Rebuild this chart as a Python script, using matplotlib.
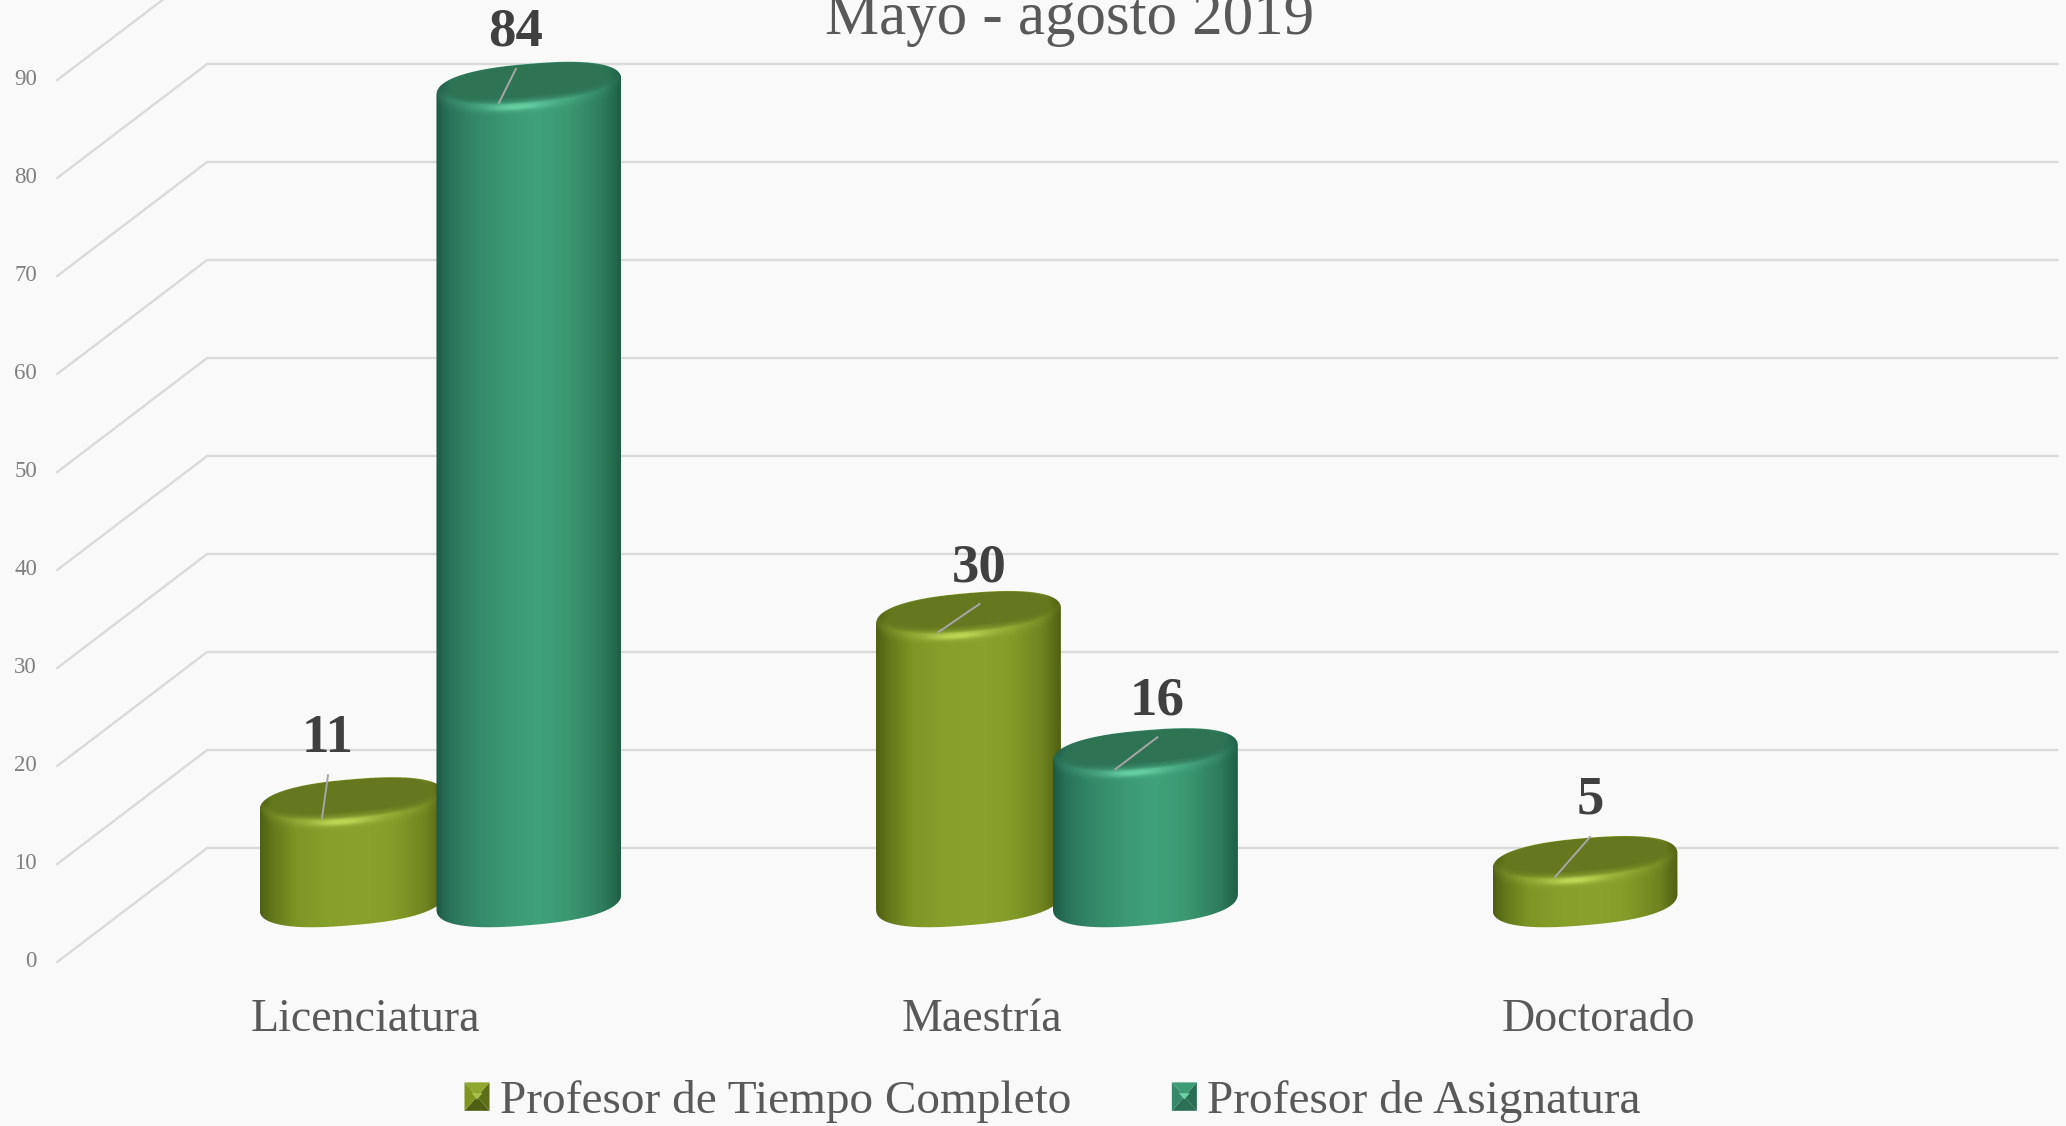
import numpy as np
import matplotlib
matplotlib.use("Agg")
import matplotlib.pyplot as plt
from matplotlib.colors import LinearSegmentedColormap, to_rgb
from matplotlib.legend_handler import HandlerPatch
from matplotlib.patches import Patch, PathPatch, Polygon
from matplotlib.path import Path

plt.rcParams["font.family"] = ["Liberation Serif", "DejaVu Serif"]

# Datos
titulo = "Mayo - agosto 2019"
categorias = ["Licenciatura", "Maestría", "Doctorado"]
tiempo_completo = [11, 30, 5]
asignatura = [84, 16, None]
niveles = [0, 10, 20, 30, 40, 50, 60, 70, 80, 90]
series_nombres = ["Profesor de Tiempo Completo", "Profesor de Asignatura"]

# Estilo de cada serie
verde_olivo = {
    "stops": [(0, "#4f5f14"), (0.07, "#65791b"), (0.2, "#7f9626"), (0.38, "#88a02b"), (0.55, "#8aa22d"),
              (0.72, "#859c29"), (0.9, "#6f8420"), (1, "#505f12")],
    "cara": "#657820", "brillo": "#bdd655",
    "bisel": ["#8fa62f", "#5c6f17", "#4f6013", "#7f951f"], "punta": "#a9c24b",
}
verde_mar = {
    "stops": [(0, "#1e5a44"), (0.07, "#2a725a"), (0.2, "#338768"), (0.4, "#3c9a74"), (0.55, "#40a27a"),
              (0.72, "#3b9871"), (0.9, "#2f7d5d"), (1, "#1f5f46")],
    "cara": "#2f7355", "brillo": "#66cfa3",
    "bisel": ["#3d9c76", "#2a6f54", "#2b6f56", "#35896a"], "punta": "#6bd0a6",
}

# Escala: x en categorias, y en valores del eje
PX_X0, PX_POR_CAT = 352, 616.5
PX_Y0, PX_POR_VALOR = 911, 9.8
BASE = 1.0
SEP = 0.287
SEMI_X = 0.15
SEMI_Y = 2.45
SESGO = 0.8
FORMA = 0.82  # elipse un poco mas llena en las esquinas
GRID_FONDO, GRID_FRENTE = 6.43, -5.2
X_FRENTE, X_FONDO, X_FIN = -0.478, -0.235, 2.766

# desplazamiento en pixeles de cada etiqueta respecto al centro de la tapa
etq_tiempo = [(-24, 64), (11, 49), (5, 61)]
etq_asignatura = [(-13, 55), (12, 53), None]

fig = plt.figure(figsize=(20.66, 11.26), dpi=100, facecolor="#f9f9f9")
ax = fig.add_axes([0, 0, 1, 1])
ax.axis("off")


def elipse(xc, yc, a, b, s, t):
    cx = np.sign(np.cos(t)) * np.abs(np.cos(t)) ** FORMA
    sy = np.sign(np.sin(t)) * np.abs(np.sin(t)) ** FORMA
    return xc + a * cx, yc - b * sy + s * cx


def cilindro(xc, valor, estilo, z):
    cmap = LinearSegmentedColormap.from_list("c", estilo["stops"])
    t = np.linspace(0, np.pi, 120)
    xb, yb = elipse(xc, BASE, SEMI_X, SEMI_Y, SESGO, t[::-1])
    xt, yt = elipse(xc, valor, SEMI_X, SEMI_Y, SESGO, -t)
    pts = np.vstack([np.c_[xb, yb], np.c_[xt, yt]])
    contorno = PathPatch(Path(np.vstack([pts, pts[0]])), transform=ax.transData, fc="none", lw=0)
    ax.add_patch(contorno)

    im = ax.imshow(np.linspace(0, 1, 256).reshape(1, -1), cmap=cmap, aspect="auto",
                   extent=[xc - SEMI_X, xc + SEMI_X, BASE - 4, valor + 4], zorder=z)
    im.set_clip_path(contorno)

    # brillo del bisel delantero
    gx = np.linspace(xc - SEMI_X, xc + SEMI_X, 200)
    gy = np.linspace(valor - 6, valor + 4, 160)
    X, Y = np.meshgrid(gx, gy)
    u = np.clip((X - xc) / SEMI_X, -1, 1)
    arco = valor + SESGO * u - (SEMI_Y - 0.1) * (1 - np.abs(u) ** (2 / FORMA)) ** (FORMA / 2)
    fino = 0.8 * np.exp(-((u + 0.12) / 0.3) ** 2) * np.exp(-((Y - arco - 0.5) / 0.32) ** 2)
    ancho = 0.4 * np.exp(-((u + 0.1) / 0.8) ** 2) * np.exp(-((Y - arco - 0.9) / 0.7) ** 2)
    rgba = np.zeros(X.shape + (4,))
    rgba[..., :3] = to_rgb(estilo["brillo"])
    rgba[..., 3] = np.clip(fino + ancho, 0, 1)
    luz = ax.imshow(rgba, origin="lower", aspect="auto", zorder=z + 0.1,
                    extent=[gx[0], gx[-1], gy[0], gy[-1]])
    luz.set_clip_path(contorno)

    # cara superior con borde suave
    tt = np.linspace(0, 2 * np.pi, 200)
    for f in np.linspace(0, 1, 8):
        a = SEMI_X * (0.9 - 0.06 * f)
        b = SEMI_Y * (0.79 - 0.13 * f)
        s = SESGO * (0.88 - 0.05 * f)
        px, py = elipse(xc, valor + 0.45 + 0.3 * f, a, b, s, tt)
        cara = Polygon(np.c_[px, py], fc=estilo["cara"], ec="none",
                       alpha=1 if f == 1 else 0.22, zorder=z + 0.2 + f * 0.1)
        ax.add_patch(cara)
        cara.set_clip_path(contorno)


def etiqueta(xc, valor, off, z):
    dx, dy = off
    punta = ax.transData.transform((xc, valor))
    ini = ax.transData.inverted().transform(punta + np.array([dx, dy - 36]))
    fin = ax.transData.inverted().transform(punta + np.array([-30, -15]))
    ax.plot([ini[0], fin[0]], [ini[1], fin[1]], color="#a6a6a6", lw=1.4, zorder=z)
    ax.annotate(str(valor), xy=(xc, valor), xytext=(dx, dy), textcoords="offset pixels",
                ha="center", va="center", fontsize=39.5, fontweight="bold",
                color="#404040", zorder=z + 1)


class HandlerBisel(HandlerPatch):
    def create_artists(self, legend, orig, xd, yd, w, h, fs, trans):
        e = orig.estilo
        x0, y0 = -xd, -yd
        c = (x0 + w / 2, y0 + h / 2)
        esq = [(x0, y0), (x0 + w, y0), (x0 + w, y0 + h), (x0, y0 + h)]
        # abajo, derecha, arriba, izquierda
        orden = [(0, 1, e["bisel"][2]), (1, 2, e["bisel"][1]),
                 (2, 3, e["bisel"][0]), (3, 0, e["bisel"][3])]
        out = [Polygon([esq[i], esq[j], c], fc=col, ec="none", transform=trans) for i, j, col in orden]
        out.append(Polygon([(c[0] - w * 0.22, c[1] + h * 0.12), (c[0] + w * 0.22, c[1] + h * 0.12),
                            (c[0], c[1] - h * 0.1), ], fc=e["punta"], ec="none", transform=trans))
        return out


# Cuadricula en perspectiva
for n in niveles:
    ax.plot([X_FRENTE, X_FONDO, X_FIN], [n + GRID_FRENTE, n + GRID_FONDO, n + GRID_FONDO],
            color="#dadada", lw=1.7, zorder=1, solid_joinstyle="miter")
    ax.text(X_FRENTE - 0.033, n + GRID_FRENTE + 0.05, str(n), ha="right", va="center",
            fontsize=16.5, color="#7f7f7f", zorder=2)

# Cilindros
z = 3
for i in range(len(categorias)):
    cilindro(i, tiempo_completo[i], verde_olivo, z)
    z += 1
    if asignatura[i] is not None:
        cilindro(i + SEP, asignatura[i], verde_mar, z)
        z += 1

ax.set_xlim((0 - PX_X0) / PX_POR_CAT, (2066 - PX_X0) / PX_POR_CAT)
ax.set_ylim((PX_Y0 - 1126) / PX_POR_VALOR, PX_Y0 / PX_POR_VALOR)

for i in range(len(categorias)):
    etiqueta(i, tiempo_completo[i], etq_tiempo[i], 30)
    if asignatura[i] is not None:
        etiqueta(i + SEP, asignatura[i], etq_asignatura[i], 30)
    ax.text(i + 0.022, -11.05, categorias[i], ha="center", va="center",
            fontsize=33, color="#595959", zorder=30)

ax.text(0.5175, 0.9825, titulo, transform=ax.transAxes, ha="center", va="center",
        fontsize=43.8, color="#595959", zorder=30)

# Leyenda
h1 = Patch(label=series_nombres[0])
h1.estilo = verde_olivo
h2 = Patch(label=series_nombres[1])
h2.estilo = verde_mar
ax.legend(handles=[h1, h2], handler_map={Patch: HandlerBisel()}, ncol=2, frameon=False,
          loc="center", bbox_to_anchor=(0.5095, 0.0215), bbox_transform=fig.transFigure,
          prop={"size": 34}, labelcolor="#595959", handlelength=0.53, handleheight=0.55,
          handletextpad=0.22, columnspacing=2.13, borderpad=0, borderaxespad=0)

fig.savefig("out.png", dpi=100, facecolor=fig.get_facecolor())
